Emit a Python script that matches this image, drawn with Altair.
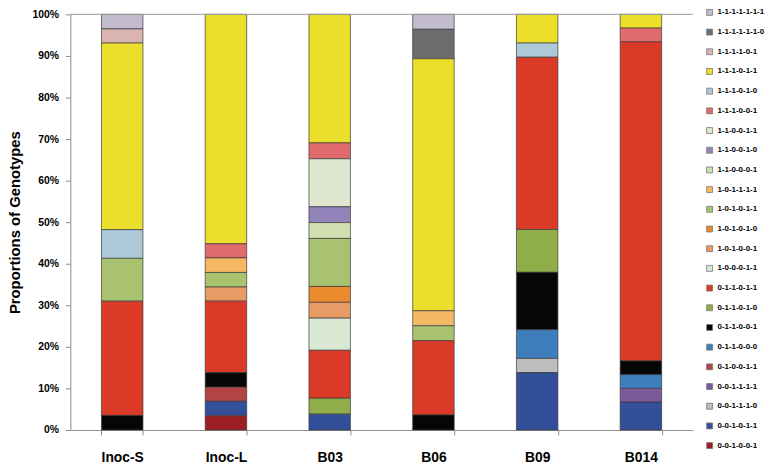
import altair as alt
import pandas as pd

samples = ["Inoc-S", "Inoc-L", "B03", "B06", "B09", "B014"]

genotypes = [
    "1-1-1-1-1-1-1", "1-1-1-1-1-1-0", "1-1-1-1-0-1", "1-1-1-0-1-1", "1-1-1-0-1-0",
    "1-1-1-0-0-1", "1-1-0-0-1-1", "1-1-0-0-1-0", "1-1-0-0-0-1", "1-0-1-1-1-1",
    "1-0-1-0-1-1", "1-0-1-0-1-0", "1-0-1-0-0-1", "1-0-0-0-1-1", "0-1-1-0-1-1",
    "0-1-1-0-1-0", "0-1-1-0-0-1", "0-1-1-0-0-0", "0-1-0-0-1-1", "0-0-1-1-1-1",
    "0-0-1-1-1-0", "0-0-1-0-1-1", "0-0-1-0-0-1",
]

colors = [
    "#c3bccf", "#6d6d6d", "#d9b4b1", "#ebdf2b", "#adc9d7",
    "#e06a6c", "#dfe6cf", "#9384bb", "#d3dfb3", "#f5b964",
    "#a9c270", "#eb8a2e", "#e99b66", "#d9e8d3", "#db3a28",
    "#8fae4a", "#060606", "#3e7ebd", "#b24443", "#7a5a9b",
    "#bdbdbd", "#344f99", "#9d1f25",
]

# percentages per genotype (same order as genotypes)
inoc_s = [3.5, 0, 3.4, 44.9, 6.9, 0, 0, 0, 0, 0, 10.3, 0, 0, 0, 27.5, 0, 3.5, 0, 0, 0, 0, 0, 0]
inoc_l = [0, 0, 0, 55.2, 0, 3.4, 0, 0, 0, 3.5, 3.5, 0, 3.4, 0, 17.2, 0, 3.5, 0, 3.4, 0, 0, 3.5, 3.4]
b03 = [0, 0, 0, 30.8, 0, 3.8, 11.5, 3.8, 3.8, 0, 11.5, 3.8, 3.8, 7.7, 11.5, 3.8, 0, 0, 0, 0, 0, 3.8, 0]
b06 = [3.6, 7.1, 0, 60.7, 0, 0, 0, 0, 0, 3.6, 3.6, 0, 0, 0, 17.9, 0, 3.6, 0, 0, 0, 0, 0, 0]
b09 = [0, 0, 0, 6.9, 3.4, 0, 0, 0, 0, 0, 0, 0, 0, 0, 41.4, 10.3, 13.8, 6.9, 0, 0, 3.4, 13.8, 0]
b014 = [0, 0, 0, 3.3, 0, 3.3, 0, 0, 0, 0, 0, 0, 0, 0, 76.7, 0, 3.3, 3.3, 0, 3.3, 0, 6.7, 0]

y_ticks = [0, 0.1, 0.2, 0.3, 0.4, 0.5, 0.6, 0.7, 0.8, 0.9, 1.0]

rows = []
for s, vals in zip(samples, [inoc_s, inoc_l, b03, b06, b09, b014]):
    for i, (g, v) in enumerate(zip(genotypes, vals)):
        if v > 0:
            rows.append({"sample": s, "genotype": g, "idx": i, "value": v})
df = pd.DataFrame(rows)

FONT = "Liberation Sans"

bars = alt.Chart(df).mark_bar(stroke="#3a3a3a", strokeWidth=0.7).encode(
    x=alt.X(
        "sample:N",
        sort=samples,
        scale=alt.Scale(paddingInner=0.6, paddingOuter=0.3),
        axis=alt.Axis(
            title=None, labelAngle=0, labelFontSize=14, labelFontWeight="bold",
            labelColor="#000", labelFont=FONT, tickBand="extent", tickSize=5,
            tickColor="#8c8c8c", domainColor="#8c8c8c", labelPadding=16,
        ),
    ),
    y=alt.Y(
        "value:Q",
        stack="normalize",
        scale=alt.Scale(domain=[0, 1]),
        axis=alt.Axis(
            title="Proportions of Genotypes", format=".0%", values=y_ticks,
            labelFontSize=10.5, labelFontWeight="bold", labelColor="#000", labelFont=FONT,
            tickSize=5, tickColor="#8c8c8c", domainColor="#8c8c8c", labelPadding=7,
            grid=False, titleFontSize=15, titleFontWeight="bold", titleFont=FONT,
            titleColor="#000", titleX=-56, titleY=210, titleAngle=-90,
            titleAlign="center", titleBaseline="middle",
        ),
    ),
    color=alt.Color(
        "genotype:N",
        scale=alt.Scale(domain=genotypes, range=colors),
        legend=alt.Legend(
            title=None, orient="none", legendX=642, legendY=-6, columns=1,
            symbolType="square", symbolSize=36, symbolStrokeColor="#777",
            symbolStrokeWidth=0.8, labelFontSize=8, labelFontWeight="bold",
            labelFont=FONT, labelColor="#000", labelOffset=4, rowPadding=9.9,
            padding=0, labelLimit=100,
        ),
    ),
    order=alt.Order("idx:Q", sort="descending"),
)

top = alt.Chart(pd.DataFrame({"y": [1.0]})).mark_rule(color="#9a9a9a", strokeWidth=1).encode(
    y="y:Q"
)

chart = alt.layer(bars, top).properties(
    width=629, height=420,
    autosize=alt.AutoSizeParams(type="none"),
    padding={"left": 63, "top": 4, "right": 74, "bottom": 38},
).configure_view(stroke=None)

chart.save("out.html", embed_options={"renderer": "svg", "actions": False})
